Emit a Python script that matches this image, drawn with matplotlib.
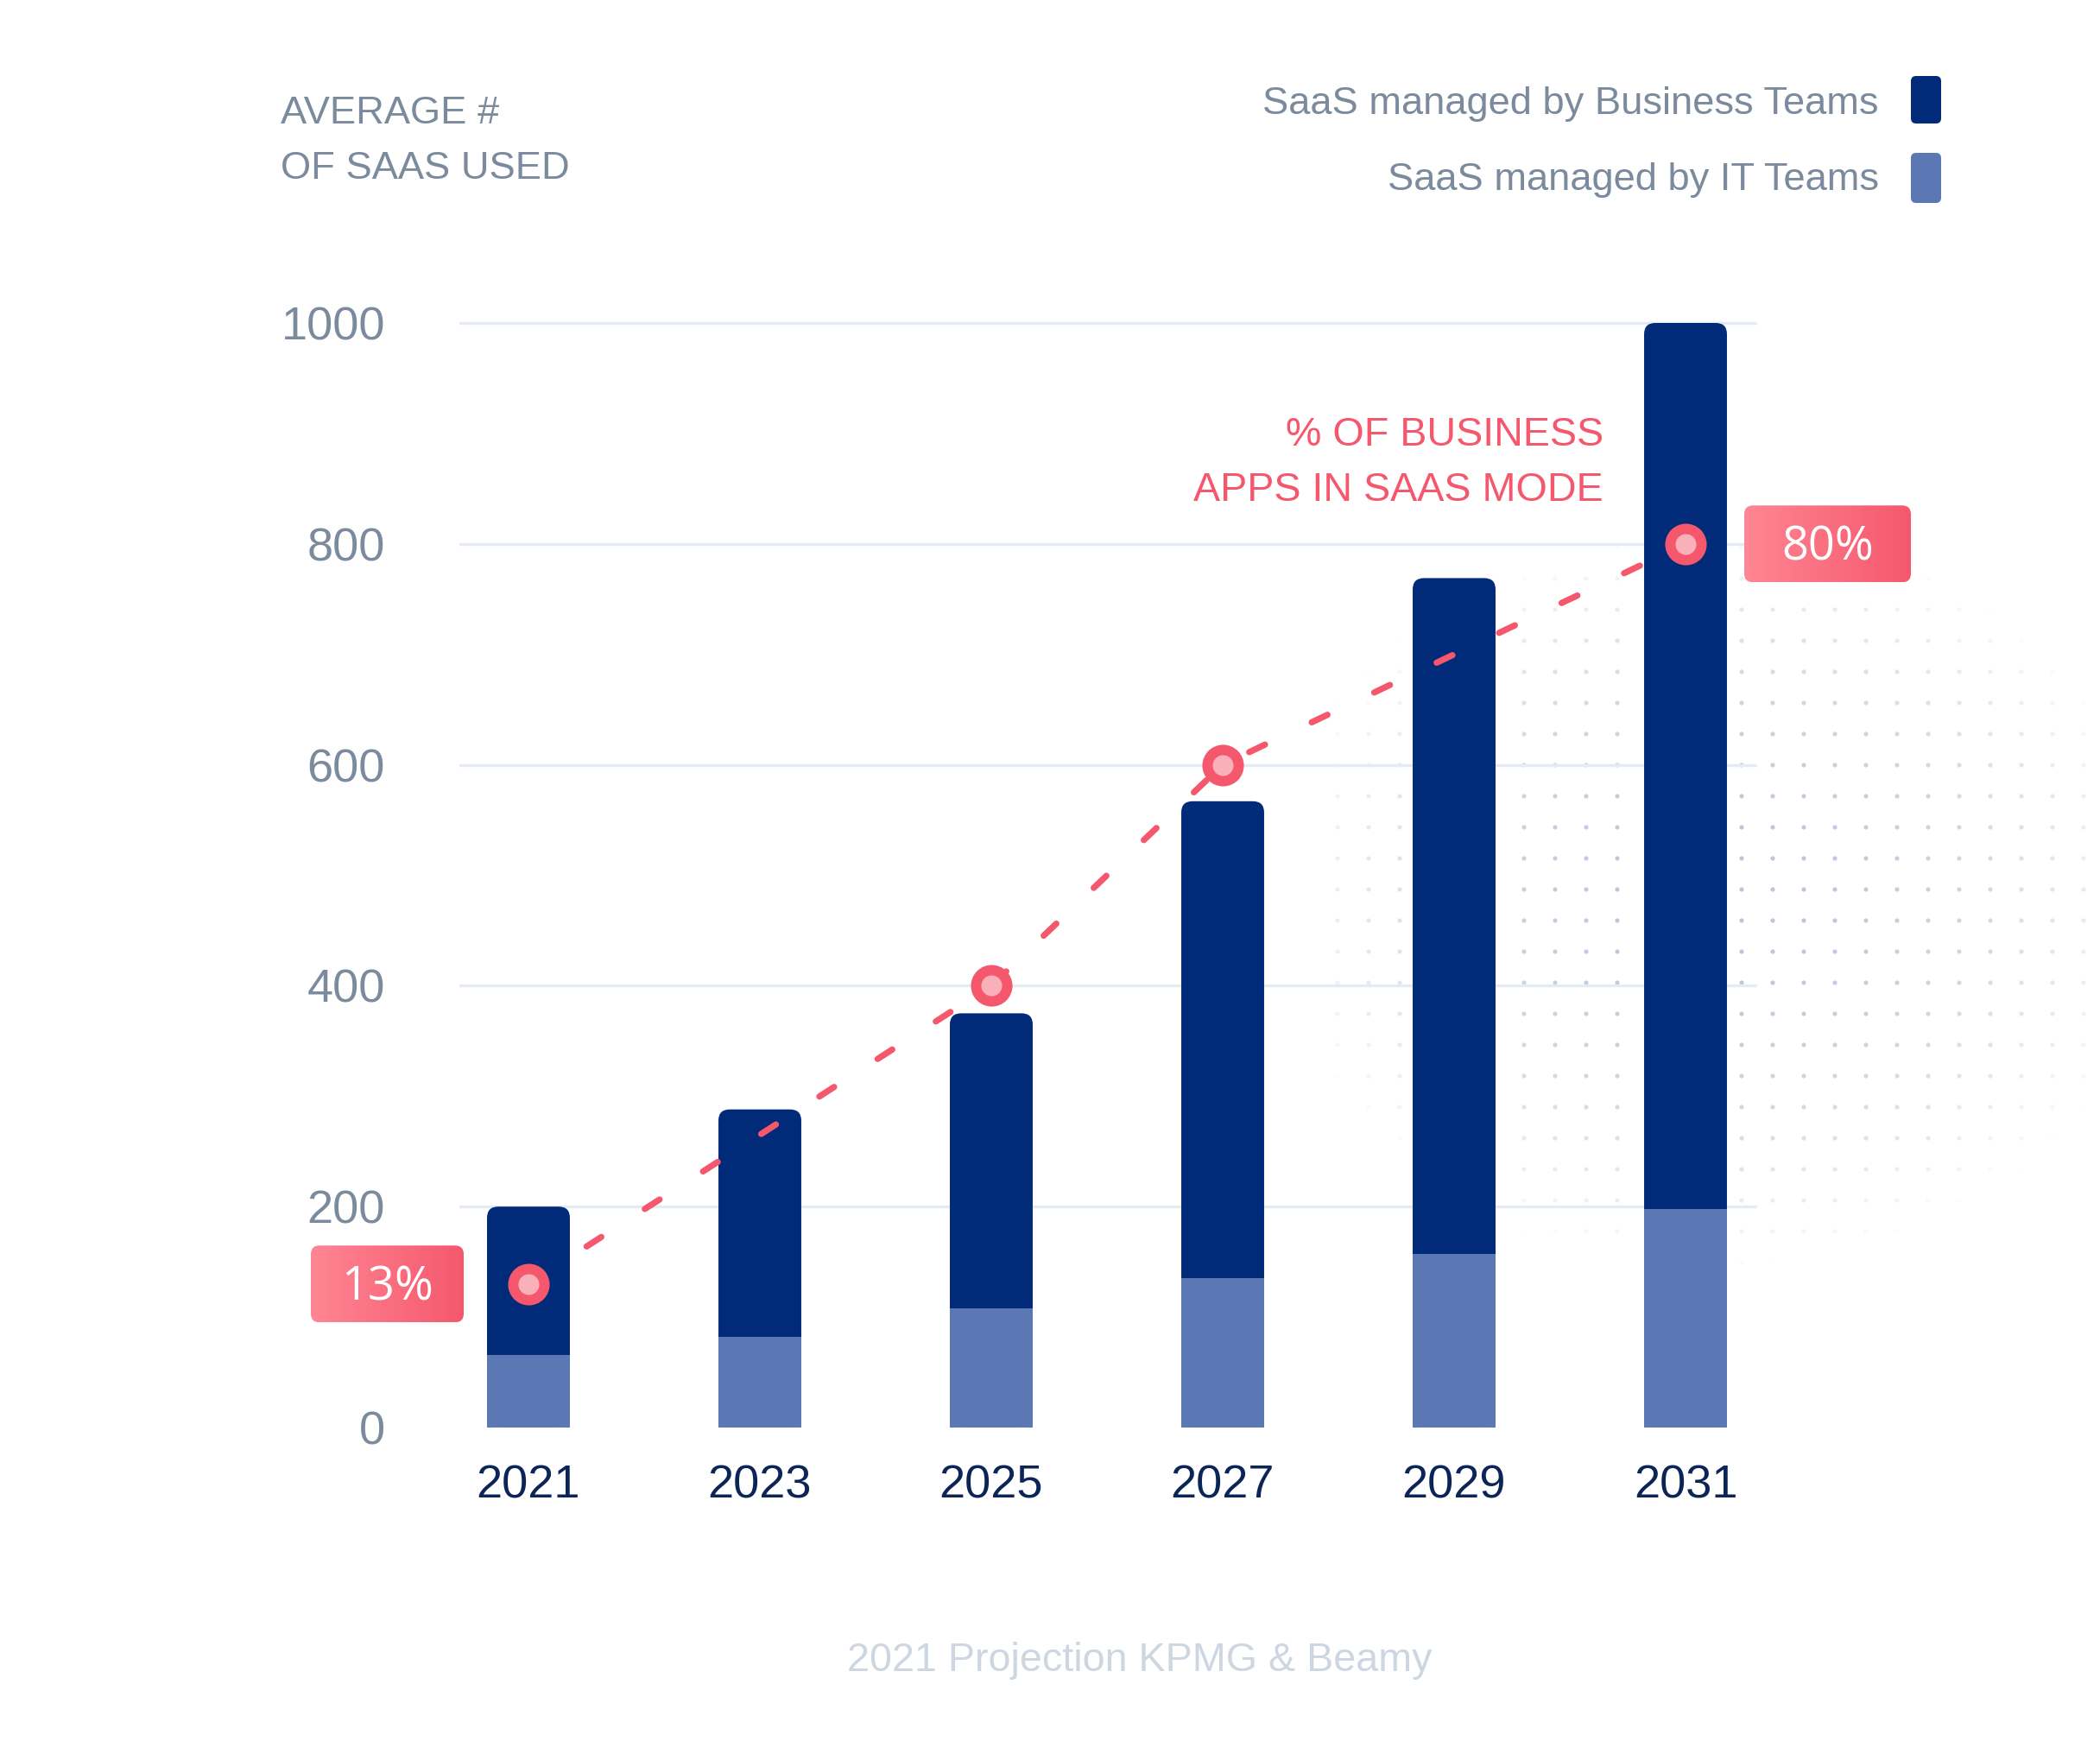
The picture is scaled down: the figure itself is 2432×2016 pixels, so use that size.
import numpy as np
import matplotlib.pyplot as plt
from matplotlib.patches import FancyBboxPatch
from matplotlib.colors import LinearSegmentedColormap, to_rgb

# data
years = ["2021", "2023", "2025", "2027", "2029", "2031"]
total_saas = [200, 288, 375, 567, 769, 1000]
it_saas = [66, 82, 108, 135, 157, 198]
pct_years = ["2021", "2025", "2027", "2031"]
pct_saas_mode = [13, 40, 60, 80]
y_ticks = [0, 200, 400, 600, 800, 1000]

NAVY = "#012a78"
IT_BLUE = "#5b77b4"
GREY = "#7b8b9d"
RED = "#f5576c"
PINK = "#fab0b8"
GRID = "#e4ebf4"

plt.rcParams["font.family"] = ["Liberation Sans", "DejaVu Sans"]

W, H = 2432, 2016
DPI = 200
fig = plt.figure(figsize=(W / DPI, H / DPI), dpi=DPI)
fig.patch.set_facecolor("white")

# faint dotted texture behind the right side
bg = fig.add_axes([0, 0, 1, 1], zorder=0)
gx, gy = np.meshgrid(np.arange(1549, 2430, 36), np.arange(598, 1480, 36))
r2 = ((gx - 1990) / 520) ** 2 + ((gy - 1040) / 430) ** 2
cols = np.zeros((gx.size, 4))
cols[:, :3] = to_rgb("#bcc5d9")
cols[:, 3] = np.clip(1 - r2, 0, 1).ravel()
bg.scatter(gx.ravel(), gy.ravel(), s=3.5, c=cols, linewidths=0)
bg.set_xlim(0, W)
bg.set_ylim(H, 0)
bg.axis("off")

# main chart
ax_l, ax_r, ax_t, ax_b = 532, 2035, 348.4, 1678.6
ax = fig.add_axes([ax_l / W, 1 - ax_b / H, (ax_r - ax_l) / W, (ax_b - ax_t) / H], zorder=1)
ax.patch.set_alpha(0)
x = np.arange(len(years))
xlim = (-0.2985, 5.3097)
ylim = (-20, 1020)
ax.set_xlim(*xlim)
ax.set_ylim(*ylim)

gl = ax.hlines(y_ticks[1:], xlim[0], xlim[1], color=GRID, lw=1.2, zorder=1)
gl.set_capstyle("round")

bar_w = 0.358
px_x = (ax_r - ax_l) / (xlim[1] - xlim[0])
px_y = (ax_b - ax_t) / (ylim[1] - ylim[0])
for xi, tot in zip(x, total_saas):
    ax.add_patch(FancyBboxPatch((xi - bar_w / 2, 0), bar_w, tot,
                                boxstyle=f"round,pad=0,rounding_size={13 / px_x}",
                                mutation_aspect=px_x / px_y,
                                fc=NAVY, ec="none", zorder=2))
ax.bar(x, it_saas, bar_w, color=IT_BLUE, zorder=3)

pct_x = [years.index(y) for y in pct_years]
pct_y = [p * 10 for p in pct_saas_mode]
ax.plot(pct_x, pct_y, color=RED, lw=2.6, dashes=(2.8, 8.3),
        dash_capstyle="round", zorder=4)
ax.scatter(pct_x, pct_y, s=300, color=RED, linewidths=0, zorder=5)
ax.scatter(pct_x, pct_y, s=75, color=PINK, linewidths=0, zorder=6)

ax.set_xticks(x, years)
ax.set_yticks(y_ticks)
ax.tick_params(axis="x", length=0, pad=6, labelsize=19.5, labelcolor="#0c2557")
ax.tick_params(axis="y", length=0, pad=31, labelsize=19.5, labelcolor=GREY)
for s in ax.spines.values():
    s.set_visible(False)

# overlay for labels and badges (pixel coordinates)
ov = fig.add_axes([0, 0, 1, 1], zorder=2)
ov.axis("off")

grad = LinearSegmentedColormap.from_list("badge", ["#ff8694", "#f5586d"])


def badge(cx, cy, w, h, label):
    x0, y0 = cx - w / 2, cy - h / 2
    box = FancyBboxPatch((x0, y0), w, h, boxstyle="round,pad=0,rounding_size=10",
                         fc="none", ec="none")
    ov.add_patch(box)
    im = ov.imshow(np.linspace(0, 1, 256)[None, :], cmap=grad, aspect="auto",
                   extent=(x0, x0 + w, y0 + h, y0), interpolation="bicubic")
    im.set_clip_path(box)
    ov.text(cx, cy + 19, label, ha="center", va="baseline",
            color="white", fontsize=19.5, family=["Open Sans", "DejaVu Sans"])


def to_px(xd, yd):
    px, py = ax.transData.transform((xd, yd))
    return px, H - py


dx0, dy0 = to_px(pct_x[0], pct_y[0])
badge(dx0 - 163.5, dy0, 177, 89, f"{pct_saas_mode[0]}%")
dx1, dy1 = to_px(pct_x[-1], pct_y[-1])
badge(dx1 + 164.5, dy1, 193, 89, f"{pct_saas_mode[-1]}%")

ov.text(325, 143, "AVERAGE #", color=GREY, fontsize=16.3, va="baseline")
ov.text(325, 207, "OF SAAS USED", color=GREY, fontsize=16.3, va="baseline")

ov.text(2176, 132, "SaaS managed by Business Teams", color=GREY, fontsize=16.3,
        ha="right", va="baseline")
ov.text(2176, 220, "SaaS managed by IT Teams", color=GREY, fontsize=16.3,
        ha="right", va="baseline")
ov.add_patch(FancyBboxPatch((2213, 88), 35, 55, boxstyle="round,pad=0,rounding_size=6",
                            fc=NAVY, ec="none"))
ov.add_patch(FancyBboxPatch((2213, 177), 35, 58, boxstyle="round,pad=0,rounding_size=6",
                            fc=IT_BLUE, ec="none"))

ov.text(1857, 516, "% OF BUSINESS", color=RED, fontsize=16.8, ha="right", va="baseline")
ov.text(1857, 580, "APPS IN SAAS MODE", color=RED, fontsize=16.8, ha="right", va="baseline")

ov.text(1320, 1935, "2021 Projection KPMG & Beamy", color="#cdd6e1", fontsize=16.8,
        ha="center", va="baseline")

ov.set_xlim(0, W)
ov.set_ylim(H, 0)

fig.savefig("out.png", dpi=DPI)
